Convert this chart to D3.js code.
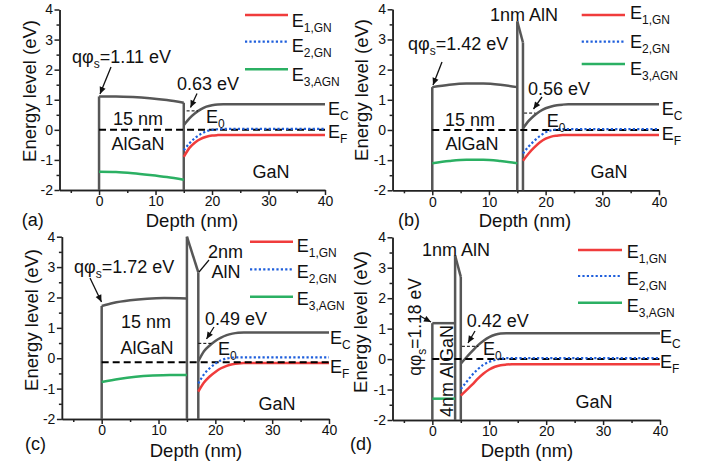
<!DOCTYPE html>
<html>
<head>
<meta charset="utf-8">
<script src="https://cdn.jsdelivr.net/npm/d3@7"></script>
<style>
  body { margin: 0; background: #fff; }
  text { font-family: "Liberation Sans", Arial, sans-serif; fill: #111; }
</style>
</head>
<body>
<svg id="chart" width="705" height="466"></svg>
<script>
// ---------- data ----------
const panelIds = ["a", "b", "c", "d"];
const depthTicks = [0, 10, 20, 30, 40];
const depthMinor = [-5, 5, 15, 25, 35];
const energyTicks = [-2, -1, 0, 1, 2, 3, 4];
const energyMinor = [-1.5, -0.5, 0.5, 1.5, 2.5, 3.5];

const surfaceBarrier = [1.11, 1.42, 1.72, 1.18];   // qφs (eV)
const groundState = [0.63, 0.56, 0.49, 0.42];      // E0 (eV)
const groundStateSpan = [[15.5, 17.5], [16.2, 18.2], [17, 19.3], [5.2, 8.1]];
const fermiLevel = [0, 0, -0.13, 0];
const legendNames = ["1,GN", "2,GN", "3,AGN"];

// vertical band edges: [depth, top energy], drawn down to the axis floor
const wallsA = [[0, 1.11], [15, 0.9]];
const wallsB = [[0, 1.42], [15, 3.6], [16, 2.9]];
const wallsC = [[0, 1.72], [15, 4.0], [17, 2.83]];
const wallsD = [[0, 1.18], [4, 3.4], [5, 2.7]];

// AlN interlayer conduction band
const alnB = [[15, 3.6], [16, 2.9]];
const alnC = [[15, 4.0], [17, 2.83]];
const alnD = [[4, 3.4], [5, 2.7]];

// AlGaN barrier conduction band
const barrierEcA = [[0, 1.11], [3, 1.11], [6, 1.09], [9, 1.05], [12, 0.99], [15, 0.9]];
const barrierEcB = [[0, 1.42], [3, 1.5], [6, 1.54], [9, 1.54], [12, 1.5], [15, 1.42]];
const barrierEcC = [[0, 1.72], [2, 1.82], [5, 1.91], [8, 1.96], [11, 1.98], [15, 1.97]];
const barrierEcD = [[0, 1.18], [4, 1.18]];

// E3,AGN subband in the barrier
const e3A = [[0, -1.39], [3, -1.4], [6, -1.44], [9, -1.5], [12, -1.57], [15, -1.66]];
const e3B = [[0, -1.1], [3, -1.03], [6, -0.99], [9, -0.99], [12, -1.03], [15, -1.1]];
const e3C = [[0, -0.78], [3, -0.68], [6, -0.61], [9, -0.57], [12, -0.55], [15, -0.55]];
const e3D = [[0, -1.3], [4, -1.3]];

// GaN conduction band
const gaNEcA = [[15, 0.15], [16, 0.38], [17, 0.55], [18, 0.68], [19, 0.77], [20, 0.82], [21, 0.845], [22, 0.85], [40, 0.85]];
const gaNEcB = [[16, 0.05], [17, 0.3], [18, 0.48], [19, 0.62], [20, 0.72], [21, 0.78], [22, 0.82], [23, 0.84], [24, 0.85], [40, 0.85]];
const gaNEcC = [[17, -0.1], [18, 0.23], [19, 0.42], [20, 0.57], [21, 0.68], [22, 0.76], [23, 0.81], [24, 0.84], [25, 0.85], [40, 0.85]];
const gaNEcD = [[5, -0.15], [6, 0.06], [7, 0.26], [8, 0.45], [9, 0.6], [10, 0.72], [11, 0.8], [12, 0.84], [13, 0.85], [40, 0.85]];

// E1,GN subband
const e1A = [[15, -0.9], [16, -0.6], [17, -0.42], [18, -0.3], [19, -0.23], [20, -0.19], [21, -0.175], [22, -0.17], [40, -0.17]];
const e1B = [[16, -1.02], [17, -0.78], [18, -0.58], [19, -0.41], [20, -0.29], [21, -0.22], [22, -0.19], [23, -0.17], [40, -0.17]];
const e1C = [[17, -1.1], [18, -0.8], [19, -0.6], [20, -0.45], [21, -0.33], [22, -0.25], [23, -0.2], [24, -0.17], [25, -0.16], [40, -0.16]];
const e1D = [[5, -1.2], [6, -1.02], [7, -0.84], [8, -0.64], [9, -0.47], [10, -0.34], [11, -0.25], [12, -0.2], [13, -0.18], [14, -0.17], [40, -0.17]];

// E2,GN subband
const e2A = [[15, -0.68], [16, -0.45], [17, -0.27], [18, -0.14], [19, -0.05], [20, 0.0], [21, 0.02], [22, 0.03], [40, 0.03]];
const e2B = [[16, -0.78], [17, -0.55], [18, -0.36], [19, -0.2], [20, -0.08], [21, -0.01], [22, 0.02], [23, 0.03], [40, 0.03]];
const e2C = [[17, -0.83], [18, -0.53], [19, -0.33], [20, -0.18], [21, -0.07], [22, -0.01], [23, 0.02], [24, 0.03], [40, 0.03]];
const e2D = [[5, -0.98], [6, -0.75], [7, -0.52], [8, -0.33], [9, -0.18], [10, -0.09], [11, -0.03], [12, 0.01], [13, 0.03], [40, 0.03]];

// ---------- styles ----------
const COL = { band: "#575757", e1: "#f03c3c", e2: "#1f5fdc", e3: "#2bb063", axis: "#222" };
const FONT_ANN = 18, FONT_TICK = 14, FONT_TITLE = 18.5, FONT_SUB = 12;

// ---------- layout of the four panels ----------
const layout = [
  { x: [59.5, 325], y: [190, 9.5], yTitle: [35.5, 91], xTitle: [192, 227], tag: [21.7, 226],
    legend: { x1: 245, x2: 288, tx: 291.7, lines: [15, 41.7, 69.3], base: [26.7, 52, 80.5] },
    ec: [328, 115], ef: [328, 138.3], gan: [271, 178], e0: [206, 123],
    e0Text: [177, 89.5], e0Arrow: [[197, 93.5], [190.5, 107.5]],
    qText: [72, 63], qArrow: [[111, 67], [100, 94]],
    layer: [[138, 125, "15 nm"], [138, 150, "AlGaN"]] },
  { x: [392.6, 659], y: [190.3, 9.3], yTitle: [368, 90], xTitle: [525, 227], tag: [398, 226],
    legend: { x1: 581.7, x2: 625, tx: 630, lines: [15, 41.7, 64], base: [19.3, 47.5, 75] },
    ec: [661.7, 115], ef: [661.7, 140], gan: [609, 178], e0: [546.7, 127],
    e0Text: [528, 95], e0Arrow: [[542, 97], [533.5, 109]],
    qText: [408, 50], qArrow: [[442, 62], [433, 85]],
    layer: [[470, 126, "15 nm"], [472, 150, "AlGaN"]],
    extra: [[524, 20.5, "1nm AlN", "middle"]] },
  { x: [61.9, 329], y: [419, 236.7], yTitle: [38, 320], xTitle: [196, 456.5], tag: [25, 450],
    legend: { x1: 250, x2: 293, tx: 296.7, lines: [241.7, 269.3, 296.7], base: [251.7, 278.3, 305] },
    ec: [330, 344], ef: [330, 373], gan: [277, 410], e0: [218, 355],
    e0Text: [205, 325], e0Arrow: [[214, 327], [206.5, 339]],
    qText: [74, 273], qArrow: [[90, 278], [101.5, 302]],
    layer: [[146, 328, "15 nm"], [147, 354, "AlGaN"]],
    extra: [[208, 258, "2nm", "start"], [226, 278, "AlN", "middle"]],
    pointer: [[209, 260], [199, 272]] },
  { x: [392.5, 660], y: [420, 237.3], yTitle: [367, 322], xTitle: [527, 456.5], tag: [350, 450],
    legend: { x1: 578, x2: 622, tx: 626.7, lines: [250, 276, 302.7], base: [258.3, 285, 311.7] },
    ec: [660, 343], ef: [660, 368], gan: [594, 408], e0: [483, 355],
    e0Text: [466.7, 327], e0Arrow: [[475, 331], [468, 343]],
    qRot: [420.5, 327], qArrow: [[420, 316], [431, 322]],
    layerRot: [453, 371, "4nm AlGaN"],
    extra: [[456, 256, "1nm AlN", "middle"]] }
];

const panelData = [
  { walls: wallsA, aln: null, barrierEc: barrierEcA, e3: e3A, ec: gaNEcA, e1: e1A, e2: e2A },
  { walls: wallsB, aln: alnB, barrierEc: barrierEcB, e3: e3B, ec: gaNEcB, e1: e1B, e2: e2B },
  { walls: wallsC, aln: alnC, barrierEc: barrierEcC, e3: e3C, ec: gaNEcC, e1: e1C, e2: e2C },
  { walls: wallsD, aln: alnD, barrierEc: barrierEcD, e3: e3D, ec: gaNEcD, e1: e1D, e2: e2D }
];

const svg = d3.select("#chart");
svg.append("defs").append("marker")
  .attr("id", "arrowHead").attr("viewBox", "0 0 10 10")
  .attr("refX", 10).attr("refY", 5)
  .attr("markerWidth", 8).attr("markerHeight", 7)
  .attr("markerUnits", "userSpaceOnUse").attr("orient", "auto")
  .append("path").attr("d", "M0,0.5 L10,5 L0,9.5 Z").attr("fill", "#111");

// text with optional subscripts: parts = [[string, isSub], ...]
function rich(g, x, y, parts, size, anchor) {
  const t = g.append("text").attr("x", x).attr("y", y)
    .attr("font-size", size).attr("text-anchor", anchor || "start");
  let shifted = false;
  parts.forEach(([s, sub]) => {
    const ts = t.append("tspan").text(s);
    if (sub && !shifted) { ts.attr("dy", 5).attr("font-size", FONT_SUB); shifted = true; }
    else if (sub) { ts.attr("font-size", FONT_SUB); }
    else if (shifted) { ts.attr("dy", -5); shifted = false; }
  });
  return t;
}

function arrow(g, [p, q]) {
  g.append("line").attr("x1", p[0]).attr("y1", p[1]).attr("x2", q[0]).attr("y2", q[1])
    .attr("stroke", "#111").attr("stroke-width", 1.3).attr("marker-end", "url(#arrowHead)");
}

panelIds.forEach((id, i) => {
  const L = layout[i], D = panelData[i];
  const g = svg.append("g").attr("class", "panel-" + id);
  const x = d3.scaleLinear().domain([-7, 40]).range(L.x);
  const y = d3.scaleLinear().domain([-2, 4]).range(L.y);
  const line = d3.line().x(d => x(d[0])).y(d => y(d[1])).curve(d3.curveMonotoneX);
  const straight = d3.line().x(d => x(d[0])).y(d => y(d[1]));

  // axes
  const xAxisY = y(-2), yAxisX = x(-7);
  g.append("g").attr("transform", `translate(0,${xAxisY})`)
    .call(d3.axisBottom(x).tickValues(depthTicks).tickSize(5).tickSizeOuter(0).tickPadding(1.5).tickFormat(d => String(d)));
  g.append("g").attr("transform", `translate(0,${xAxisY})`)
    .call(d3.axisBottom(x).tickValues(depthMinor).tickSize(3).tickSizeOuter(0).tickFormat(""));
  g.append("g").attr("transform", `translate(${yAxisX},0)`)
    .call(d3.axisLeft(y).tickValues(energyTicks).tickSize(5).tickSizeOuter(0).tickPadding(1.5).tickFormat(d => String(d)));
  g.append("g").attr("transform", `translate(${yAxisX},0)`)
    .call(d3.axisLeft(y).tickValues(energyMinor).tickSize(3).tickSizeOuter(0).tickFormat(""));
  g.selectAll(".domain, .tick line").attr("stroke", COL.axis).attr("stroke-width", 1.5);
  g.selectAll(".tick text").attr("font-size", FONT_TICK).attr("fill", "#111")
    .attr("font-family", "Liberation Sans, Arial, sans-serif");

  // band edges
  D.walls.forEach(([d, top]) => {
    g.append("path").attr("d", straight([[d, -2], [d, top]]))
      .attr("fill", "none").attr("stroke", COL.band).attr("stroke-width", 2.5);
  });
  if (D.aln) g.append("path").attr("d", straight(D.aln))
    .attr("fill", "none").attr("stroke", COL.band).attr("stroke-width", 2.5);
  g.append("path").attr("d", line(D.barrierEc))
    .attr("fill", "none").attr("stroke", COL.band).attr("stroke-width", 2.5);
  g.append("path").attr("d", line(D.ec))
    .attr("fill", "none").attr("stroke", COL.band).attr("stroke-width", 2.5);

  // subbands
  g.append("path").attr("d", line(D.e3))
    .attr("fill", "none").attr("stroke", COL.e3).attr("stroke-width", 2.5);
  g.append("path").attr("d", line(D.e1))
    .attr("fill", "none").attr("stroke", COL.e1).attr("stroke-width", 2.5);

  // Fermi level
  g.append("path").attr("d", straight([[0, fermiLevel[i]], [40, fermiLevel[i]]]))
    .attr("fill", "none").attr("stroke", "#000").attr("stroke-width", 2).attr("stroke-dasharray", "7,4");

  g.append("path").attr("d", line(D.e2))
    .attr("fill", "none").attr("stroke", COL.e2).attr("stroke-width", 2.2).attr("stroke-dasharray", "2.2,2.2");

  // ground state marker
  const sp = groundStateSpan[i];
  g.append("path").attr("d", straight([[sp[0], groundState[i]], [sp[1], groundState[i]]]))
    .attr("fill", "none").attr("stroke", "#000").attr("stroke-width", 1).attr("stroke-dasharray", "3,2");

  // legend
  const lg = L.legend;
  const styles = [
    { c: COL.e1, w: 2.5, dash: null },
    { c: COL.e2, w: 2.2, dash: "2.2,2.2" },
    { c: COL.e3, w: 2.5, dash: null }
  ];
  legendNames.forEach((n, k) => {
    g.append("line").attr("x1", lg.x1).attr("x2", lg.x2).attr("y1", lg.lines[k]).attr("y2", lg.lines[k])
      .attr("stroke", styles[k].c).attr("stroke-width", styles[k].w)
      .attr("stroke-dasharray", styles[k].dash);
    rich(g, lg.tx, lg.base[k], [["E", false], [n, true]], FONT_ANN);
  });

  // titles
  g.append("text").attr("transform", `translate(${L.yTitle[0]},${L.yTitle[1]}) rotate(-90)`)
    .attr("text-anchor", "middle").attr("font-size", FONT_TITLE).text("Energy level (eV)");
  g.append("text").attr("x", L.xTitle[0]).attr("y", L.xTitle[1])
    .attr("text-anchor", "middle").attr("font-size", FONT_TITLE).text("Depth (nm)");
  g.append("text").attr("x", L.tag[0]).attr("y", L.tag[1]).attr("font-size", FONT_ANN).text(`(${id})`);

  // band labels
  rich(g, L.ec[0], L.ec[1], [["E", false], ["C", true]], FONT_ANN);
  rich(g, L.ef[0], L.ef[1], [["E", false], ["F", true]], FONT_ANN);
  rich(g, L.e0[0], L.e0[1], [["E", false], ["0", true]], FONT_ANN);
  g.append("text").attr("x", L.gan[0]).attr("y", L.gan[1]).attr("text-anchor", "middle")
    .attr("font-size", FONT_ANN).text("GaN");

  // E0 annotation
  g.append("text").attr("x", L.e0Text[0]).attr("y", L.e0Text[1]).attr("font-size", FONT_ANN)
    .text(`${groundState[i].toFixed(2)} eV`);
  arrow(g, L.e0Arrow);

  // surface barrier annotation
  const qParts = [["qφ", false], ["s", true], [`=${surfaceBarrier[i].toFixed(2)} eV`, false]];
  if (L.qText) rich(g, L.qText[0], L.qText[1], qParts, FONT_ANN);
  if (L.qRot) rich(g, 0, 0, qParts, FONT_ANN - 0.5, "middle")
    .attr("transform", `translate(${L.qRot[0]},${L.qRot[1]}) rotate(-90)`);
  arrow(g, L.qArrow);

  // layer labels
  if (L.layer) L.layer.forEach(([lx, ly, s]) => {
    g.append("text").attr("x", lx).attr("y", ly).attr("text-anchor", "middle").attr("font-size", FONT_ANN).text(s);
  });
  if (L.layerRot) g.append("text")
    .attr("transform", `translate(${L.layerRot[0]},${L.layerRot[1]}) rotate(-90)`)
    .attr("text-anchor", "middle").attr("font-size", FONT_ANN).text(L.layerRot[2]);
  if (L.extra) L.extra.forEach(([lx, ly, s, a]) => {
    g.append("text").attr("x", lx).attr("y", ly).attr("text-anchor", a).attr("font-size", FONT_ANN).text(s);
  });
  if (L.pointer) g.append("line")
    .attr("x1", L.pointer[0][0]).attr("y1", L.pointer[0][1])
    .attr("x2", L.pointer[1][0]).attr("y2", L.pointer[1][1])
    .attr("stroke", "#111").attr("stroke-width", 1.2);
});
</script>
</body>
</html>
